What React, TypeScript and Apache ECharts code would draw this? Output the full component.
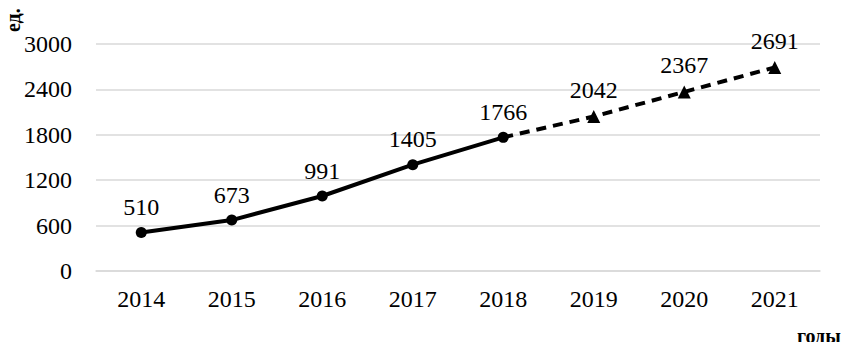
import React, { useEffect, useRef } from "react";
import * as echarts from "echarts";

const years = ["2014", "2015", "2016", "2017", "2018", "2019", "2020", "2021"];
const actual = [510, 673, 991, 1405, 1766, null, null, null];
const forecast = [null, null, null, null, 1766, 2042, 2367, 2691];
const yTicks = { min: 0, max: 3000, interval: 600 };

const FONT = "'Liberation Serif', 'Times New Roman', serif";

export default function App() {
  const ref = useRef<HTMLDivElement>(null);
  useEffect(() => {
    if (!ref.current) return;
    const chart = echarts.init(ref.current, undefined, { renderer: "svg" });
    chart.setOption({
      animation: false,
      textStyle: { fontFamily: FONT },
      grid: { left: 96, right: 34, top: 44, bottom: 79 },
      xAxis: {
        type: "category",
        data: years,
        boundaryGap: true,
        axisLine: { lineStyle: { color: "#d9d9d9", width: 1.5 } },
        axisTick: { show: false },
        axisLabel: { color: "#000", fontFamily: FONT, fontSize: 24, margin: 16 },
      },
      yAxis: {
        type: "value",
        min: yTicks.min,
        max: yTicks.max,
        interval: yTicks.interval,
        axisLine: { show: false },
        axisTick: { show: false },
        splitLine: { lineStyle: { color: "#d9d9d9", width: 1.5 } },
        axisLabel: {
          color: "#000",
          fontFamily: FONT,
          fontSize: 24,
          margin: 24,
          formatter: (v: number) => String(v),
        },
      },
      graphic: [
        {
          type: "text",
          x: 3,
          y: 32,
          rotation: Math.PI / 2,
          style: {
            text: "ед.",
            fontFamily: FONT,
            fontSize: 20,
            fontWeight: "bold",
            fill: "#000",
            align: "left",
            verticalAlign: "top",
          },
        },
        {
          type: "text",
          x: 797,
          y: 346,
          style: {
            text: "годы",
            fontFamily: FONT,
            fontSize: 20,
            fontWeight: "bold",
            fill: "#000",
            align: "left",
            verticalAlign: "bottom",
          },
        },
      ],
      series: [
        {
          type: "line",
          data: forecast,
          symbol: (_v: any, p: any) => (p.dataIndex === 4 ? "none" : "triangle"),
          symbolSize: 13,
          lineStyle: { color: "#000", width: 4, type: [10, 7] },
          itemStyle: { color: "#000" },
          label: {
            show: true,
            position: "top",
            distance: 8,
            color: "#000",
            fontFamily: FONT,
            fontSize: 24,
            formatter: (p: any) => (p.dataIndex === 4 ? "" : String(p.value)),
          },
          z: 2,
        },
        {
          type: "line",
          data: actual,
          symbol: "circle",
          symbolSize: 11,
          lineStyle: { color: "#000", width: 4 },
          itemStyle: { color: "#000" },
          label: {
            show: true,
            position: "top",
            distance: 8,
            color: "#000",
            fontFamily: FONT,
            fontSize: 24,
          },
          z: 3,
        },
      ],
    });
    return () => chart.dispose();
  }, []);
  return <div ref={ref} style={{ width: 854, height: 350, margin: -8 }} />;
}
